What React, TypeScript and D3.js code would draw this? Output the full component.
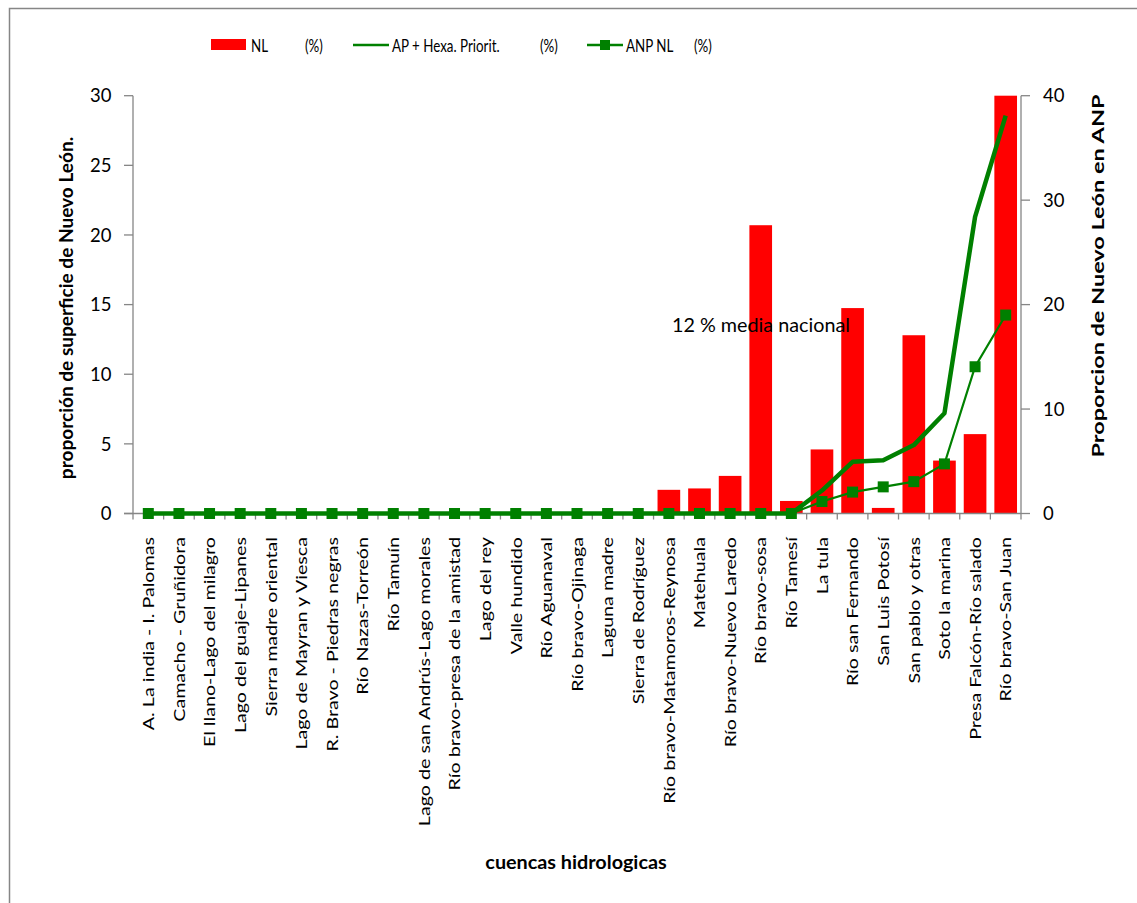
import React from "react";
import * as d3 from "d3";

// Cuencas hidrológicas (eje de categorías)
const categories: string[] = [
  "A. La india - I. Palomas",
  "Camacho - Gruñidora",
  "El llano-Lago del milagro",
  "Lago del guaje-Lipanes",
  "Sierra madre oriental",
  "Lago de Mayran y Viesca",
  "R. Bravo - Piedras negras",
  "Río Nazas-Torreón",
  "Río Tamuín",
  "Lago de san Andrús-Lago morales",
  "Río bravo-presa de la amistad",
  "Lago del rey",
  "Valle hundido",
  "Río Aguanaval",
  "Río bravo-Ojinaga",
  "Laguna madre",
  "Sierra de Rodríguez",
  "Río bravo-Matamoros-Reynosa",
  "Matehuala",
  "Río bravo-Nuevo Laredo",
  "Río bravo-sosa",
  "Río Tamesí",
  "La tula",
  "Río san Fernando",
  "San Luis Potosí",
  "San pablo y otras",
  "Soto la marina",
  "Presa Falcón-Río salado",
  "Río bravo-San Juan",
];

// NL (%) – barras, eje izquierdo
const nlValues: number[] = [
  0, 0, 0, 0, 0, 0, 0, 0, 0, 0, 0, 0, 0, 0, 0, 0, 0,
  1.7, 1.8, 2.7, 20.7, 0.9, 4.6, 14.75, 0.4, 12.8, 3.8, 5.7, 30,
];

// AP + Hexa. Priorit. (%) – línea gruesa, eje derecho
const apHexaValues: number[] = [
  0, 0, 0, 0, 0, 0, 0, 0, 0, 0, 0, 0, 0, 0, 0, 0, 0, 0, 0, 0, 0, 0,
  2.2, 4.95, 5.1, 6.55, 9.6, 28.4, 38.1,
];

// ANP NL (%) – línea con marcadores, eje derecho
const anpValues: number[] = [
  0, 0, 0, 0, 0, 0, 0, 0, 0, 0, 0, 0, 0, 0, 0, 0, 0, 0, 0, 0, 0, 0,
  1.15, 2.05, 2.55, 3.05, 4.75, 14.05, 19.0,
];

const leftTicks: number[] = [0, 5, 10, 15, 20, 25, 30];
const rightTicks: number[] = [0, 10, 20, 30, 40];

const WIDTH = 1137;
const HEIGHT = 903;
const PLOT = { left: 133, right: 1021, top: 95.7, bottom: 513.5 };
const FONT = "Lato, 'Open Sans', sans-serif";
const AXIS = "#868686";
const GREEN = "#008000";
const RED = "#FF0000";

type LegendText = { x: number; label: string };
const legendTexts: LegendText[] = [
  { x: 251, label: "NL" },
  { x: 305, label: "(%)" },
  { x: 392, label: "AP + Hexa. Priorit." },
  { x: 540, label: "(%)" },
  { x: 626, label: "ANP NL" },
  { x: 694, label: "(%)" },
];

export default function App() {
  const x = d3
    .scaleBand<string>()
    .domain(categories)
    .range([PLOT.left, PLOT.right])
    .paddingInner(0.26)
    .paddingOuter(0.13);
  const step = x.step();
  const cx = (c: string) => (x(c) as number) + x.bandwidth() / 2;

  const yL = d3.scaleLinear().domain([0, 30]).range([PLOT.bottom, PLOT.top]);
  const yR = d3.scaleLinear().domain([0, 40]).range([PLOT.bottom, PLOT.top]);

  const lineR = d3
    .line<number>()
    .x((_, i) => cx(categories[i]))
    .y((d) => yR(d));

  const boundaries = d3.range(categories.length + 1).map((i) => PLOT.left + i * step);

  return (
    <svg
      width={WIDTH}
      height={HEIGHT}
      style={{ position: "absolute", left: 0, top: 0, background: "#fff" }}
      fontFamily={FONT}
    >
      {/* marco del gráfico */}
      <rect x={9.5} y={8.5} width={1140} height={910} fill="none" stroke={AXIS} strokeWidth={1.5} />

      {/* leyenda */}
      <g fontSize={16.5} fill="#000">
        <rect x={211} y={39} width={35} height={11} fill={RED} />
        <line x1={353} x2={389} y1={45} y2={45} stroke={GREEN} strokeWidth={2.5} />
        <line x1={587} x2={623} y1={45} y2={45} stroke={GREEN} strokeWidth={2.5} />
        <rect x={600} y={40} width={10} height={10} fill={GREEN} />
        {legendTexts.map((t) => (
          <text key={t.x} transform={`translate(${t.x},51.5) scale(0.81,1)`}>
            {t.label}
          </text>
        ))}
      </g>

      {/* barras NL */}
      {categories.map((c, i) =>
        nlValues[i] > 0 ? (
          <rect
            key={c}
            x={x(c)}
            y={yL(nlValues[i])}
            width={x.bandwidth()}
            height={yL(0) - yL(nlValues[i])}
            fill={RED}
          />
        ) : null
      )}

      {/* eje izquierdo */}
      <line x1={PLOT.left} x2={PLOT.left} y1={PLOT.top} y2={PLOT.bottom} stroke={AXIS} strokeWidth={1.3} />
      {leftTicks.map((t) => (
        <g key={t}>
          <line x1={PLOT.left - 9} x2={PLOT.left} y1={yL(t)} y2={yL(t)} stroke={AXIS} strokeWidth={1.3} />
          <text x={111.5} y={yL(t)} dy="0.36em" textAnchor="end" fontSize={18.5}>
            {t}
          </text>
        </g>
      ))}

      {/* eje derecho */}
      <line x1={PLOT.right} x2={PLOT.right} y1={PLOT.top} y2={PLOT.bottom} stroke={AXIS} strokeWidth={1.3} />
      {rightTicks.map((t) => (
        <g key={t}>
          <line x1={PLOT.right} x2={PLOT.right + 9} y1={yR(t)} y2={yR(t)} stroke={AXIS} strokeWidth={1.3} />
          <text x={1043} y={yR(t)} dy="0.36em" textAnchor="start" fontSize={18.5}>
            {t}
          </text>
        </g>
      ))}

      {/* eje de categorías */}
      <line x1={PLOT.left - 9} x2={PLOT.right} y1={PLOT.bottom} y2={PLOT.bottom} stroke={AXIS} strokeWidth={1.3} />
      {boundaries.map((bx, i) => (
        <line key={i} x1={bx} x2={bx} y1={PLOT.bottom} y2={PLOT.bottom + 6} stroke={AXIS} strokeWidth={1.3} />
      ))}
      {categories.map((c) => (
        <text
          key={c}
          transform={`translate(${cx(c)},537) rotate(-90) scale(1.23,1)`}
          textAnchor="end"
          dy="0.36em"
          fontSize={16}
        >
          {c}
        </text>
      ))}

      {/* AP + Hexa. Priorit. */}
      <path d={lineR(apHexaValues) as string} fill="none" stroke={GREEN} strokeWidth={4.5} strokeLinejoin="round" />

      {/* ANP NL */}
      <path d={lineR(anpValues) as string} fill="none" stroke={GREEN} strokeWidth={2.2} />
      {categories.map((c, i) => (
        <rect key={c} x={cx(c) - 5.5} y={yR(anpValues[i]) - 5.5} width={11} height={11} fill={GREEN} />
      ))}

      {/* anotación */}
      <text transform="translate(672,331.5) scale(1.04,1)" fontSize={19}>
        12 % media nacional
      </text>

      {/* títulos de ejes */}
      <text
        transform={`translate(66,308) rotate(-90) scale(1.03,1)`}
        textAnchor="middle"
        dy="0.36em"
        fontSize={18.5}
        fontWeight="bold"
      >
        proporción de superficie de Nuevo León.
      </text>
      <text
        transform={`translate(1098,276) rotate(-90) scale(1.38,1)`}
        textAnchor="middle"
        dy="0.36em"
        fontSize={17}
        fontWeight="bold"
      >
        Proporcion de Nuevo León en ANP
      </text>
      <text
        transform="translate(576,869) scale(1.1,1)"
        textAnchor="middle"
        fontSize={18}
        fontWeight="bold"
      >
        cuencas hidrologicas
      </text>
    </svg>
  );
}
